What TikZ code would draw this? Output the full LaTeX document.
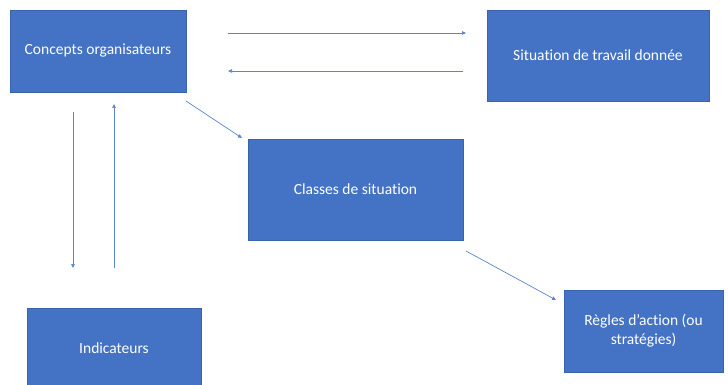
\documentclass[tikz,border=0pt]{standalone}
\usepackage{fontspec}
\setmainfont{Carlito}[Ligatures=NoCommon]
\usetikzlibrary{arrows.meta}
\definecolor{boxblue}{HTML}{4472C4}
\definecolor{boxedge}{HTML}{3A63AE}
\definecolor{arrowblue}{HTML}{5B84CC}
\begin{document}
\begin{tikzpicture}[x=1pt,y=-1pt,
  blockbox/.style={draw=boxedge,line width=0.6pt,fill=boxblue,text=white,align=center,font=\fontsize{15.5}{19}\selectfont,inner sep=0pt},
  conn/.style={draw=arrowblue,line width=0.7pt,-{Triangle[length=4pt,width=3.5pt]}}]
\useasboundingbox (0,0) rectangle (728,385);
\node[blockbox,minimum width=176pt,minimum height=82pt] (co) at (98,51) {Concepts organisateurs};
\node[blockbox,minimum width=222pt,minimum height=91pt] (st) at (598,55.5) {Situation de travail donnée};
\node[blockbox,minimum width=215pt,minimum height=101pt] (cs) at (355.5,189.5) {Classes de situation};
\node[blockbox,minimum width=174pt,minimum height=80pt] (ind) at (114,348) {Indicateurs};
\node[blockbox,minimum width=159pt,minimum height=82pt] (ra) at (643.5,331) {Règles d’action (ou\\stratégies)};
\coordinate (a1s) at (228,33); \coordinate (a1e) at (466,33);
\coordinate (a2s) at (463,71); \coordinate (a2e) at (228,71);
\coordinate (a3s) at (186,101); \coordinate (a3e) at (242,138);
\coordinate (a4s) at (73,112); \coordinate (a4e) at (73,268);
\coordinate (a5s) at (114,268); \coordinate (a5e) at (114,104);
\coordinate (a6s) at (466,251); \coordinate (a6e) at (556,300);
\draw[conn] (a1s) -- (a1e);
\draw[conn] (a2s) -- (a2e);
\draw[conn] (a3s) -- (a3e);
\draw[conn] (a4s) -- (a4e);
\draw[conn] (a5s) -- (a5e);
\draw[conn] (a6s) -- (a6e);
\end{tikzpicture}
\end{document}
